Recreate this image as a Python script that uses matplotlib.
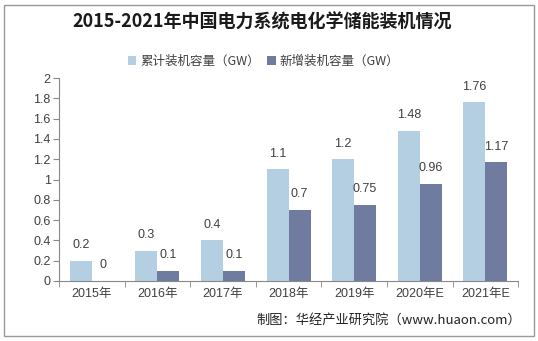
import numpy as np
import matplotlib.pyplot as plt
from matplotlib.patches import Rectangle

plt.rcParams['font.family'] = ['Liberation Sans', 'Noto Sans CJK SC', 'DejaVu Sans']
cjk = ['Noto Sans CJK SC', 'DejaVu Sans']

years = ['2015年', '2016年', '2017年', '2018年', '2019年', '2020年E', '2021年E']
total = [0.2, 0.3, 0.4, 1.1, 1.2, 1.48, 1.76]
added = [0, 0.1, 0.1, 0.7, 0.75, 0.96, 1.17]
yticks = [0, 0.2, 0.4, 0.6, 0.8, 1, 1.2, 1.4, 1.6, 1.8, 2]

c_light = '#b4cee2'
c_dark = '#6f7ca0'
txt = '#404040'

fig = plt.figure(figsize=(5.38, 3.41), dpi=100)
ax = fig.add_axes([0.1097, 0.176, 0.8533, 0.595])

x = np.arange(len(years))
w = 0.335
b1 = ax.bar(x - w / 2, total, w, color=c_light, label='累计装机容量（GW）')
b2 = ax.bar(x + w / 2, added, w, color=c_dark, label='新增装机容量（GW）')

# 막대 위 값 표시
for bars, vals in ((b1, total), (b2, added)):
    for r, v in zip(bars, vals):
        ax.annotate(f'{v:g}', (r.get_x() + r.get_width() / 2, v),
                    xytext=(0, 7), textcoords='offset points',
                    ha='center', va='bottom', fontsize=9, color=txt)

ax.set_xlim(-0.5, len(years) - 0.5)
ax.set_ylim(0, 2)
ax.set_yticks(yticks)
ax.set_yticklabels([f'{t:g}' for t in yticks])
ax.set_xticks(x)
ax.set_xticklabels(years)
ax.set_xticks(np.arange(len(years) + 1) - 0.5, minor=True)
ax.tick_params(axis='x', which='major', length=0, labelsize=9, colors=txt, pad=5)
ax.tick_params(axis='x', which='minor', length=4, color='#888888', direction='out')
ax.tick_params(axis='y', length=4, color='#888888', labelsize=9, labelcolor=txt, pad=2)
for s in ('top', 'right'):
    ax.spines[s].set_visible(False)
for s in ('left', 'bottom'):
    ax.spines[s].set_color('#888888')
    ax.spines[s].set_linewidth(0.8)

fig.text(0.487, 0.935, '2015-2021年中国电力系统电化学储能装机情况',
         ha='center', va='center', fontsize=13, fontweight='bold', color='#1a1a1a',
         family=cjk)
fig.legend(handles=[b1, b2], loc='center', bbox_to_anchor=(0.49, 0.82),
           ncol=2, frameon=False, prop={'family': cjk, 'size': 9},
           handlelength=0.7, handleheight=0.7,
           handletextpad=0.3, columnspacing=0.6, labelcolor=txt)
fig.text(0.968, 0.06, '制图：华经产业研究院（www.huaon.com）',
         ha='right', va='center', fontsize=9.5, color='#222222', family=cjk)

fig.patches.append(Rectangle((0.008, 0.015), 0.984, 0.97, transform=fig.transFigure,
                             fill=False, edgecolor='#999999', linewidth=1))

fig.savefig('out.png', dpi=100)
